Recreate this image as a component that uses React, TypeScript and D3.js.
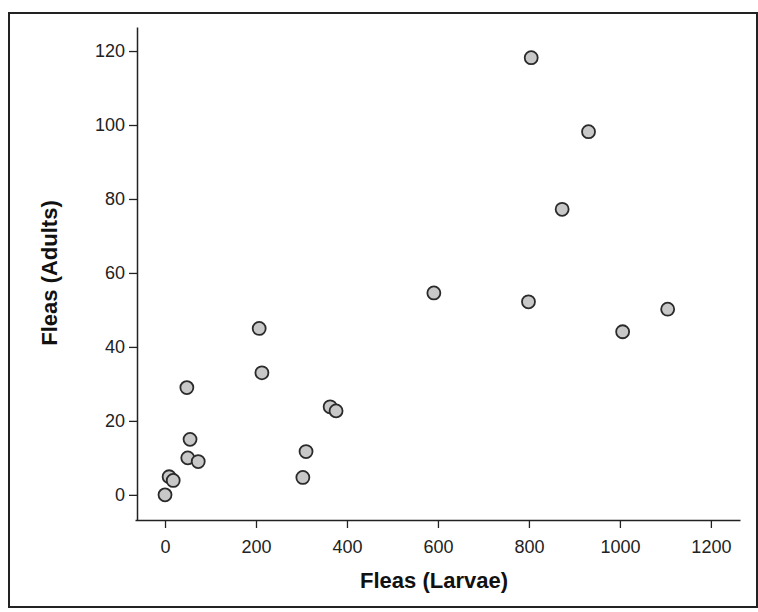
import React, { useEffect, useRef } from "react";
import * as d3 from "d3";

const width = 758;
const height = 612;

const larvae = [0, 9, 18, 48, 55, 50, 73, 207, 213, 303, 310, 363, 376, 591, 799, 805, 873, 931, 1006, 1105];
const adults = [0, 4.9, 3.9, 29, 15, 10, 9, 45, 33, 4.7, 11.7, 23.8, 22.7, 54.6, 52.2, 118.2, 77.2, 98.2, 44.1, 50.2];
const xTicks = [0, 200, 400, 600, 800, 1000, 1200];
const yTicks = [0, 20, 40, 60, 80, 100, 120];

const font = "Liberation Sans, Arial, sans-serif";

export default function App() {
  const ref = useRef<SVGSVGElement>(null);

  useEffect(() => {
    const svg = d3.select(ref.current);
    svg.selectAll("*").remove();

    const data = larvae.map((x, i) => ({ x, y: adults[i] }));

    const x = d3.scaleLinear().domain([-66, 1264]).range([135, 740]);
    const y = d3.scaleLinear().domain([-6.8, 126.5]).range([520, 27]);

    // frame around the whole figure
    svg
      .append("rect")
      .attr("x", 9)
      .attr("y", 13)
      .attr("width", 748)
      .attr("height", 594)
      .attr("fill", "none")
      .attr("stroke", "#222")
      .attr("stroke-width", 2);

    const styleAxis = g =>
      g
        .call(g => g.select(".domain").attr("stroke", "#222").attr("stroke-width", 1.5))
        .call(g => g.selectAll(".tick line").attr("stroke", "#222").attr("stroke-width", 1.3))
        .call(g =>
          g
            .selectAll(".tick text")
            .attr("font-size", 18)
            .attr("fill", "#222")
            .attr("font-family", font)
        );

    const xAxis = g =>
      g
        .attr("transform", `translate(0,${y.range()[0]})`)
        .attr("font-size", 18)
        .call(
          d3
            .axisBottom(x)
            .tickValues(xTicks)
            .tickFormat(d3.format("d"))
            .tickSize(8)
            .tickPadding(12)
            .tickSizeOuter(0)
        )
        .call(styleAxis);

    const yAxis = g =>
      g
        .attr("transform", `translate(${x.range()[0] + 2},0)`)
        .attr("font-size", 18)
        .call(
          d3
            .axisLeft(y)
            .tickValues(yTicks)
            .tickFormat(d3.format("d"))
            .tickSize(8)
            .tickPadding(4)
            .tickSizeOuter(0)
        )
        .call(styleAxis);

    svg.append("g").call(xAxis);
    svg.append("g").call(yAxis);

    svg
      .append("text")
      .attr("x", 434)
      .attr("y", 588)
      .attr("text-anchor", "middle")
      .attr("font-family", font)
      .attr("font-weight", "bold")
      .attr("font-size", 22)
      .attr("fill", "#111")
      .text("Fleas (Larvae)");

    svg
      .append("text")
      .attr("transform", "translate(57,273) rotate(-90)")
      .attr("text-anchor", "middle")
      .attr("font-family", font)
      .attr("font-weight", "bold")
      .attr("font-size", 22)
      .attr("fill", "#111")
      .text("Fleas (Adults)");

    svg
      .append("g")
      .selectAll("circle")
      .data(data)
      .join("circle")
      .attr("cx", d => x(d.x))
      .attr("cy", d => y(d.y))
      .attr("r", 6.5)
      .attr("fill", "#c8c8c8")
      .attr("stroke", "#2a2a2a")
      .attr("stroke-width", 1.8);
  }, []);

  return (
    <svg
      ref={ref}
      width={width}
      height={height}
      style={{ position: "absolute", left: 0, top: 0, background: "#fff" }}
    />
  );
}
